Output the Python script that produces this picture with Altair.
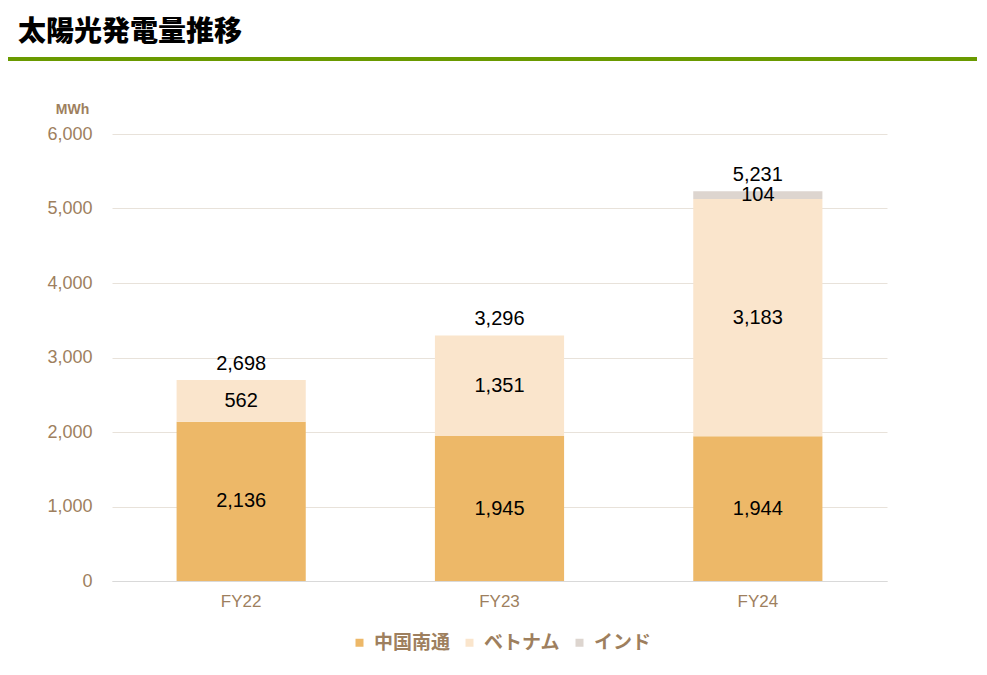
import altair as alt
import pandas as pd

fiscal_years = ["FY22", "FY23", "FY24"]
series_names = ["中国南通", "ベトナム", "インド"]
china = [2136, 1945, 1944]
vietnam = [562, 1351, 3183]
india = [0, 0, 104]
totals = [2698, 3296, 5231]
colors = ["#EDB868", "#FAE5CC", "#DDD5CF"]

rows = []
for i, fy in enumerate(fiscal_years):
    for k, (name, vals) in enumerate(zip(series_names, [china, vietnam, india])):
        if vals[i] > 0:
            rows.append({"fy": fy, "series": name, "order": k, "value": vals[i]})
df = pd.DataFrame(rows)
df_tot = pd.DataFrame({"fy": fiscal_years, "total": totals})

brown = "#9E7F5E"
num_font = "Liberation Sans"

x_enc = alt.X("fy:N", sort=fiscal_years,
              scale=alt.Scale(paddingInner=0.5, paddingOuter=0.25),
              axis=alt.Axis(title=None, labelAngle=0, labelColor=brown, labelFontSize=17,
                            labelFont=num_font, labelPadding=12, ticks=False,
                            domainColor="#D9D9D9", domainWidth=1))

y_scale = alt.Scale(domain=[0, 6000])

bars = alt.Chart(df).mark_bar().encode(
    x=x_enc,
    y=alt.Y("value:Q", stack="zero", scale=y_scale,
            axis=alt.Axis(title="MWh", titleAngle=0, titleAlign="center", titleBaseline="bottom",
                          titleX=-40, titleY=-18, titleColor=brown, titleFontSize=14,
                          titleFont=num_font, titleFontWeight="bold",
                          values=[0, 1000, 2000, 3000, 4000, 5000, 6000], format=",d",
                          labelColor=brown, labelFontSize=18, labelFont=num_font,
                          labelPadding=20, ticks=False, domain=False,
                          gridColor="#E8E2DA", gridWidth=1)),
    color=alt.Color("series:N", sort=series_names,
                    scale=alt.Scale(domain=series_names, range=colors),
                    legend=alt.Legend(title=None, orient="none", direction="horizontal",
                                      legendX=238, legendY=499, symbolType="square",
                                      symbolSize=64, symbolStrokeWidth=0,
                                      labelColor=brown, labelFontSize=19,
                                      labelFont="Noto Sans CJK JP", labelFontWeight="bold",
                                      labelOffset=5, columnPadding=9)),
    order=alt.Order("order:Q", sort="ascending"),
)

seg_labels = alt.Chart(df).transform_stack(
    stack="value", groupby=["fy"], as_=["v0", "v1"],
    sort=[alt.SortField("order", order="ascending")]
).transform_calculate(mid="(datum.v0 + datum.v1) / 2").mark_text(
    fontSize=20, font=num_font, color="black", baseline="middle"
).encode(
    x=alt.X("fy:N", sort=fiscal_years),
    y=alt.Y("mid:Q", scale=y_scale),
    text=alt.Text("value:Q", format=",d"),
)

tot_labels = alt.Chart(df_tot).mark_text(
    fontSize=20, font=num_font, color="black", baseline="middle", dy=-16
).encode(
    x=alt.X("fy:N", sort=fiscal_years),
    y=alt.Y("total:Q", scale=y_scale),
    text=alt.Text("total:Q", format=",d"),
)

green_line = alt.Chart(df_tot).mark_rule(color="#6A9A00", strokeWidth=4).encode(
    x=alt.value(-108), x2=alt.value(866), y=alt.value(-75)
)

chart = alt.layer(bars, seg_labels, tot_labels, green_line).properties(
    width=775, height=447,
    autosize=alt.AutoSizeParams(type="none"),
    padding={"left": 104, "top": 126, "right": 90, "bottom": 80},
    title=alt.TitleParams("太陽光発電量推移", anchor="start", frame="group", dx=-94,
                          offset=10, fontSize=28, fontWeight=900,
                          font="Noto Sans CJK JP", color="black"),
).configure_view(stroke=None)

chart.save("out.html", embed_options={"renderer": "svg", "actions": False})
